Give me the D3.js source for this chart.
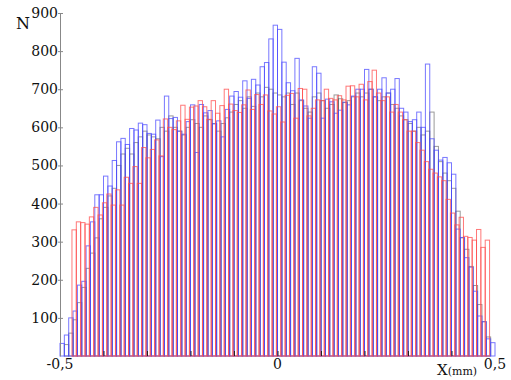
<!DOCTYPE html>
<html>
<head>
<meta charset="utf-8">
<script src="https://cdn.jsdelivr.net/npm/d3@7"></script>
<style>
  html, body { margin: 0; padding: 0; background: #fff; }
  svg { display: block; }
  text { font-family: "DejaVu Serif", serif; fill: #111; }
</style>
</head>
<body>
<svg id="chart" width="511" height="380"></svg>
<script>
// Histogram counts per 0.01 mm bin for three runs
const binWidth = 0.01;

const blueStart = -0.5;
const blueCounts = [
  33, 55, 100, 118, 186, 196, 289, 352, 423, 423,
  472, 446, 513, 562, 571, 555, 597, 593, 611, 607,
  584, 582, 619, 523, 682, 623, 626, 590, 582, 615,
  659, 534, 660, 638, 644, 609, 617, 575, 647, 682,
  694, 679, 722, 676, 726, 711, 759, 770, 832, 868,
  857, 771, 717, 696, 781, 672, 656, 624, 759, 742,
  624, 674, 667, 637, 645, 666, 659, 682, 700, 700,
  752, 700, 680, 700, 730, 690, 700, 728, 650, 640,
  615, 620, 640, 600, 766, 570, 540, 514, 521, 507,
  477, 333, 311, 258, 233, 170, 105, 90, 45, 35
];

const blackStart = -0.49;
const blackCounts = [
  30, 60, 95, 140, 180, 230, 270, 310, 360, 390,
  420, 440, 500, 530, 545, 530, 560, 575, 590, 580,
  575, 570, 600, 590, 630, 600, 590, 580, 600, 620,
  610, 600, 630, 620, 610, 590, 610, 625, 640, 660,
  670, 650, 680, 655, 690, 680, 705, 700, 690, 685,
  680, 690, 660, 690, 670, 650, 640, 680, 690, 670,
  650, 660, 685, 675, 665, 670, 680, 690, 680, 690,
  700, 680, 670, 680, 690, 660, 650, 630, 620, 610,
  590, 600, 580, 590, 640, 550, 510, 480, 460, 440,
  380, 310, 280, 235, 185, 135, 90, 50
];

const redStart = -0.4725;
const redCounts = [
  331, 352, 350, 346, 365, 390, 370, 402, 425, 396, 436, 396, 469,
  453, 497, 453, 547, 520, 542, 567, 525, 622, 600, 594, 617, 658, 621, 653, 656, 670, 654,
  621, 670, 637, 657, 700, 661, 644, 639, 659, 698, 647, 686, 660, 685, 643, 635, 654, 614,
  684, 689, 624, 702, 700, 630, 650, 672, 670, 700, 676, 672, 683, 672, 708, 709, 680, 713,
  672, 720, 750,
  690, 670, 680, 640, 660, 640, 620, 590, 590, 560, 540, 510, 490, 480, 470, 460,
  411, 375, 344, 364, 314, 311, 304, 332, 285, 304
];

const yTicks = [100, 200, 300, 400, 500, 600, 700, 800, 900];
const xMinorTicks = [-0.4, -0.3, -0.2, -0.1, 0, 0.1, 0.2, 0.3, 0.4];
const xLabelValues = [-0.5, 0, 0.5];
const xLabelText = ["-0,5", "0", "0,5"];

const svg = d3.select("#chart");

const x = d3.scaleLinear().domain([-0.5, 0.5]).range([60, 495]);
const y = d3.scaleLinear().domain([0, 900]).range([356, 13]);

function toBins(start, counts) {
  return counts.map((c, i) => ({ x0: start + i * binWidth, x1: start + (i + 1) * binWidth, n: c }));
}

const series = [
  { bins: toBins(blackStart, blackCounts), color: "#202020", opacity: 0.45 },
  { bins: toBins(blueStart, blueCounts), color: "#4b4bff", opacity: 0.75 },
  { bins: toBins(redStart, redCounts), color: "#ff4b4b", opacity: 0.75 }
];

// Outlined bars, one group per run
series.forEach(s => {
  svg.append("g")
    .selectAll("rect")
    .data(s.bins)
    .join("rect")
    .attr("x", d => x(d.x0))
    .attr("y", d => y(d.n))
    .attr("width", d => x(d.x1) - x(d.x0))
    .attr("height", d => y(0) - y(d.n))
    .attr("fill", "none")
    .attr("stroke", s.color)
    .attr("stroke-opacity", s.opacity)
    .attr("stroke-width", 1);
});

// Vertical axis
const yAxis = svg.append("g")
  .attr("transform", `translate(${x(-0.5)},0)`)
  .call(d3.axisLeft(y).tickValues(yTicks).tickSizeInner(-3).tickSizeOuter(0).tickPadding(2));
yAxis.select(".domain").attr("stroke", "#888");
yAxis.selectAll(".tick line").attr("stroke", "#888").attr("x1", -2);
yAxis.selectAll(".tick text")
  .style("font-family", "DejaVu Serif, serif")
  .style("font-size", "14px")
  .attr("fill", "#111");

// Small inner ticks along the baseline
const xAxis = svg.append("g")
  .attr("transform", `translate(0,${y(0)})`)
  .call(d3.axisBottom(x).tickValues(xMinorTicks).tickSizeInner(-5).tickSizeOuter(0).tickFormat(""));
xAxis.select(".domain").remove();
xAxis.selectAll(".tick line").attr("stroke", "#222");

// Horizontal labels
svg.append("g")
  .selectAll("text")
  .data(xLabelValues)
  .join("text")
  .attr("x", d => x(d))
  .attr("y", 369)
  .attr("text-anchor", "middle")
  .style("font-size", "14px")
  .text((d, i) => xLabelText[i]);

// Axis titles
svg.append("text")
  .attr("x", 16)
  .attr("y", 29)
  .style("font-size", "16px")
  .text("N");

const xt = svg.append("text")
  .attr("x", 437)
  .attr("y", 375)
  .style("font-size", "15px");
xt.append("tspan").text("X");
xt.append("tspan").style("font-size", "11px").text("(mm)");
</script>
</body>
</html>
